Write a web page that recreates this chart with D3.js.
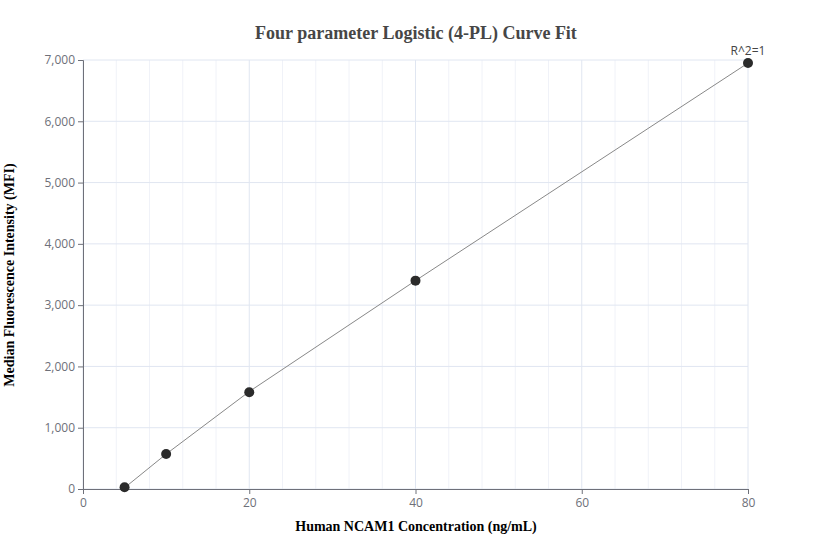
<!DOCTYPE html><html><head><meta charset="utf-8"><script src="https://cdn.jsdelivr.net/npm/d3@7"></script>
<style>body{margin:0;background:#fff}</style></head><body><svg width="832" height="560"></svg>
<script>
const xValues=[5,10,20,40,80];
const yValues=[30,570,1580,3400,6950];
const fitX=[5,10,20,40,80];
const fitY=[20,570,1590,3400,6950];
const xTicks=[0,20,40,60,80];
const yTicks=[0,1000,2000,3000,4000,5000,6000,7000];
const svg=d3.select("svg");
const x=d3.scaleLinear().domain([0,80]).range([83,748]);
const y=d3.scaleLinear().domain([0,7000]).range([489,60]);
const g=svg.append("g");
d3.range(0,81,4).forEach(v=>g.append("line").attr("x1",x(v)).attr("x2",x(v)).attr("y1",60).attr("y2",489).attr("stroke",v%20==0?"#e0e6f1":"#f0f2f8"));
yTicks.forEach(v=>g.append("line").attr("x1",83).attr("x2",748).attr("y1",y(v)).attr("y2",y(v)).attr("stroke","#e0e6f1"));
const xa=svg.append("g").attr("transform","translate(0,489)").call(d3.axisBottom(x).tickValues(xTicks).tickSize(5).tickPadding(4));
const ya=svg.append("g").attr("transform","translate(83,0)").call(d3.axisLeft(y).tickValues(yTicks).tickSize(5).tickFormat(d3.format(",")).tickPadding(3));
[xa,ya].forEach(a=>{a.selectAll("path,line").attr("stroke","#6e7079");a.selectAll("text").attr("fill","#6e7079").style("font-family","Open Sans, sans-serif").style("font-size","12px");});
svg.append("path").attr("d",d3.line().x((d,i)=>x(fitX[i])).y(d=>y(d))(fitY)).attr("stroke","#888").attr("fill","none");
svg.selectAll("circle.p").data(xValues).join("circle").attr("cx",d=>x(d)).attr("cy",(d,i)=>y(yValues[i])).attr("r",5).attr("fill","#2b2b2b");
svg.append("text").attr("x",748).attr("y",55).attr("text-anchor","middle").attr("fill","#444").style("font-family","Open Sans, sans-serif").style("font-size","12px").text("R^2=1");
svg.append("text").attr("x",416).attr("y",39).attr("text-anchor","middle").attr("fill","#464646").style("font-family","Liberation Serif, serif").style("font-weight","bold").style("font-size","18px").text("Four parameter Logistic (4-PL) Curve Fit");
svg.append("text").attr("x",416).attr("y",531).attr("text-anchor","middle").style("font-family","Liberation Serif, serif").style("font-weight","bold").style("font-size","14px").text("Human NCAM1 Concentration (ng/mL)");
svg.append("text").attr("transform","translate(14,275) rotate(-90)").attr("text-anchor","middle").style("font-family","Liberation Serif, serif").style("font-weight","bold").style("font-size","14px").text("Median Fluorescence Intensity (MFI)");
</script></body></html>
